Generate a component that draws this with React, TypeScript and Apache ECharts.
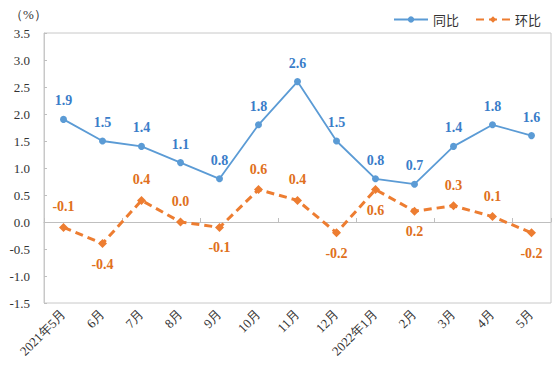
import React, { useEffect, useRef } from "react";
import * as echarts from "echarts";

const categories = [
  "2021年5月", "6月", "7月", "8月", "9月", "10月", "11月", "12月",
  "2022年1月", "2月", "3月", "4月", "5月",
];
const tongbi = [1.9, 1.5, 1.4, 1.1, 0.8, 1.8, 2.6, 1.5, 0.8, 0.7, 1.4, 1.8, 1.6];
const huanbi = [-0.1, -0.4, 0.4, 0.0, -0.1, 0.6, 0.4, -0.2, 0.6, 0.2, 0.3, 0.1, -0.2];
const huanbiLabelPlace = [
  "top", "bottom", "top", "top", "bottom", "top", "top",
  "bottom", "bottom", "bottom", "top", "top", "bottom",
];
const yTicks = { min: -1.5, max: 3.5, interval: 0.5 };

export default function App() {
  const ref = useRef<HTMLDivElement>(null);
  useEffect(() => {
    if (!ref.current) return;
    const chart = echarts.init(ref.current, null, { renderer: "svg" });
    const serif = "Liberation Serif";
    chart.setOption({
      animation: false,
      backgroundColor: "#fff",
      grid: {
        left: 44, top: 33, right: 3, bottom: 79,
        show: true, borderColor: "#c8c8c8", borderWidth: 1,
      },
      graphic: [
        {
          type: "text", left: 10, top: 8,
          style: { text: "（%）", fontFamily: serif, fontSize: 13, fill: "#333" },
        },
      ],
      legend: {
        right: 8, top: 8, itemWidth: 34, itemHeight: 8, itemGap: 16,
        textStyle: { fontFamily: "Noto Sans CJK SC", fontSize: 13, color: "#333" },
        data: ["同比", "环比"],
      },
      xAxis: [
        {
          type: "category", data: categories, position: "bottom",
          axisLine: { show: false, onZero: false },
          axisTick: { show: false },
          axisLabel: {
            rotate: 45, interval: 0, margin: 9,
            fontFamily: serif, fontSize: 13, color: "#333",
          },
        },
        {
          type: "category", data: categories, position: "bottom",
          axisLine: { show: true, onZero: true, lineStyle: { color: "#bfbfbf", width: 1 } },
          axisTick: { show: true, inside: true, length: 4, lineStyle: { color: "#bfbfbf" } },
          axisLabel: { show: false },
        },
      ],
      yAxis: {
        type: "value", min: yTicks.min, max: yTicks.max, interval: yTicks.interval,
        splitLine: { show: false },
        axisLine: { show: true, lineStyle: { color: "#c8c8c8" } },
        axisTick: { show: true, inside: true, length: 3, lineStyle: { color: "#bfbfbf" } },
        axisLabel: {
          margin: 14, fontFamily: serif, fontSize: 13, color: "#333",
          formatter: (v: number) => v.toFixed(1),
        },
      },
      series: [
        {
          name: "同比", type: "line", data: tongbi,
          symbol: "circle", symbolSize: 7,
          lineStyle: { color: "#5b9bd5", width: 1.8 },
          itemStyle: { color: "#5b9bd5" },
          label: {
            show: true, position: "top", distance: 8,
            fontFamily: serif, fontSize: 14, fontWeight: "bold", color: "#3a7dc9",
            formatter: (p: any) => Number(p.value).toFixed(1),
          },
        },
        {
          name: "环比", type: "line",
          data: huanbi.map((v, i) => ({
            value: v,
            label: { position: huanbiLabelPlace[i] },
          })),
          symbol: "diamond", symbolSize: 9,
          lineStyle: { color: "#ed7d31", width: 3, type: [8, 5] },
          itemStyle: { color: "#ed7d31" },
          label: {
            show: true, distance: 9,
            fontFamily: serif, fontSize: 14, fontWeight: "bold", color: "#e07020",
            formatter: (p: any) => Number(p.value).toFixed(1),
          },
        },
      ],
    });
    return () => chart.dispose();
  }, []);
  return <div ref={ref} style={{ width: 554, height: 382, position: "absolute", left: 0, top: 0 }} />;
}
